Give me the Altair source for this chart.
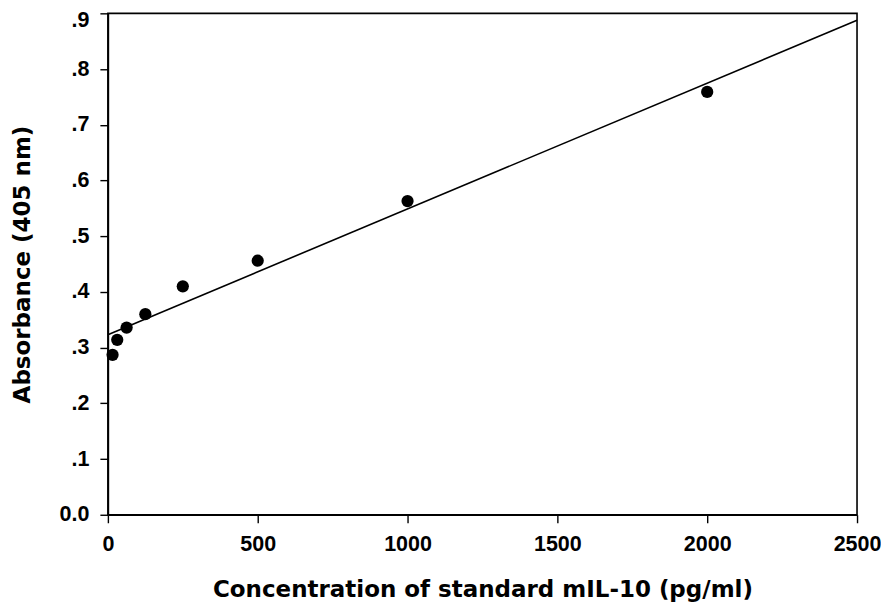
import altair as alt
import pandas as pd

# Data
concentration = [15.6, 31.25, 62.5, 125, 250, 500, 1000, 2000]
absorbance = [0.287, 0.314, 0.336, 0.360, 0.410, 0.456, 0.563, 0.759]
x_ticks = [0, 500, 1000, 1500, 2000, 2500]
y_ticks = [0.0, 0.1, 0.2, 0.3, 0.4, 0.5, 0.6, 0.7, 0.8, 0.9]

df = pd.DataFrame({"conc": concentration, "abs": absorbance})

LABEL_FONT = "Liberation Sans"
TITLE_FONT = "DejaVu Sans"

x_enc = alt.X(
    "conc:Q",
    scale=alt.Scale(domain=[0, 2500], nice=False, zero=False),
    axis=alt.Axis(
        values=x_ticks,
        format="d",
        title="Concentration of standard mIL-10 (pg/ml)",
        grid=False,
        tickSize=8,
        labelPadding=11,
        labelFontSize=21.5,
        labelFont=LABEL_FONT,
        labelFontWeight="bold",
        labelColor="black",
        titleFont=TITLE_FONT,
        titleFontSize=23,
        titleFontWeight="bold",
        titleColor="black",
        titleBaseline="alphabetic",
        titleY=82,
        labelFlush=False,
    ),
)

y_enc = alt.Y(
    "abs:Q",
    scale=alt.Scale(domain=[0, 0.9], nice=False, zero=False),
    axis=alt.Axis(
        values=y_ticks,
        title="Absorbance (405 nm)",
        grid=False,
        tickSize=8,
        labelPadding=11,
        labelFontSize=21.5,
        labelFont=LABEL_FONT,
        labelFontWeight="bold",
        labelColor="black",
        labelOffset={"condition": {"test": "datum.value >= 0.85", "value": 7}, "value": 0},
        labelExpr="datum.value == 0 ? '0.0' : replace(format(datum.value, '.1f'), '0.', '.')",
        titleFont=TITLE_FONT,
        titleFontSize=23,
        titleFontWeight="bold",
        titleColor="black",
        titleAngle=-90,
        titleAlign="center",
        titleBaseline="alphabetic",
        titleX=-78,
        titleY=251,
        labelFlush=False,
    ),
)

points = alt.Chart(df).mark_circle(size=150, color="black", opacity=1).encode(
    x=x_enc, y=y_enc
)

line = (
    alt.Chart(df)
    .transform_regression("conc", "abs", extent=[0, 2500])
    .mark_line(color="black", strokeWidth=1.6)
    .encode(x=x_enc, y=y_enc)
)

chart = (
    alt.layer(line, points)
    .properties(
        width=750,
        height=502,
        autosize=alt.AutoSizeParams(type="none"),
        padding={"left": 100, "top": 5, "right": 24, "bottom": 90},
        background="white",
    )
    .configure_view(stroke="black", strokeWidth=1.6)
    .configure_axis(
        domainColor="black",
        domainWidth=1.6,
        tickColor="black",
        tickWidth=1.4,
    )
)

chart.save("out.html", embed_options={"renderer": "svg", "actions": False})
